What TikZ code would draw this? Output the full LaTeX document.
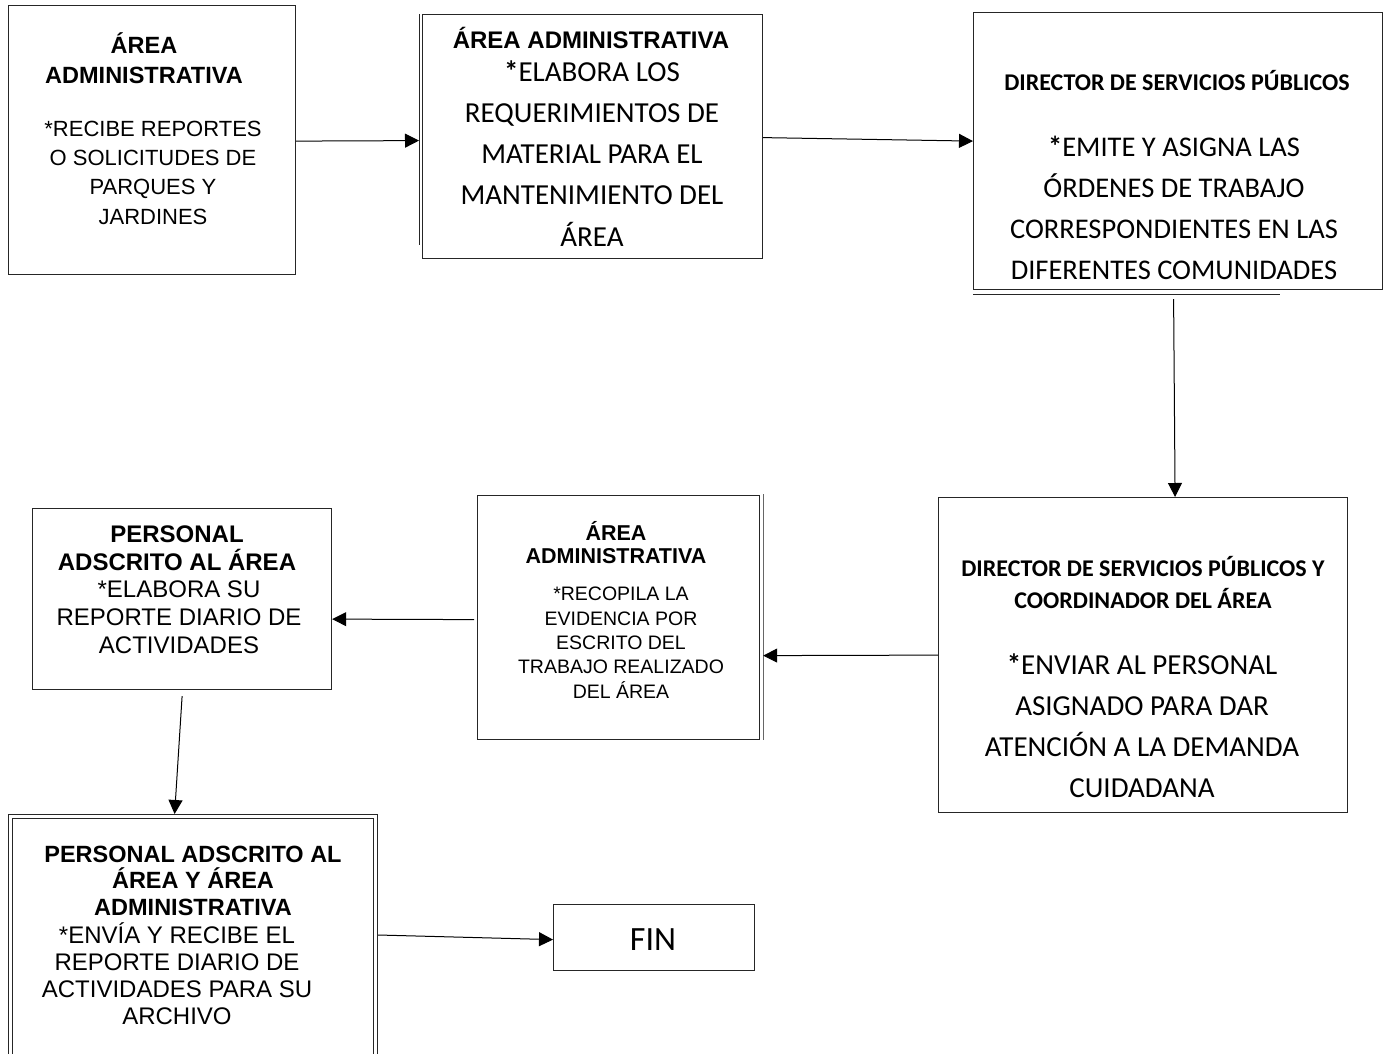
\documentclass[tikz,border=0pt]{standalone}
\usepackage{fontspec}
\setmainfont{Liberation Sans}
\newfontfamily\calib{Carlito}
\usetikzlibrary{arrows.meta}

\tikzset{
  stepbox/.style={draw=black!85, line width=1.2pt, inner sep=0pt, anchor=north west},
  % anchor=base of a multi-line node sits on the baseline of its last line
  txt/.style={anchor=base, align=center, inner sep=0pt},
  arial/.style 2 args={txt, font={\fontsize{#1}{#2}\selectfont}},
  arialb/.style 2 args={txt, font={\fontsize{#1}{#2}\selectfont\bfseries}},
  cal/.style 2 args={txt, font={\calib\fontsize{#1}{#2}\selectfont}},
  calb/.style 2 args={txt, font={\calib\fontsize{#1}{#2}\selectfont\bfseries}},
  flow/.style={line width=1pt, -{Triangle[length=14pt,width=14pt]}},
  edge/.style={draw=black!85, line width=1.2pt}
}

\begin{document}
\begin{tikzpicture}[x=1pt, y=-1pt]
  \clip (0,0) rectangle (1385,1053);
  \fill[white] (0,0) rectangle (1385,1053);

  % boxes
  \node[stepbox, minimum width=287pt, minimum height=269pt] (b1) at (8,5) {};
  \node[stepbox, minimum width=340pt, minimum height=244pt] (b2) at (422,14) {};
  \draw[edge, line width=1.6pt] ([xshift=-2.5pt]b2.north west) -- ++(0,231);
  \node[stepbox, minimum width=409pt, minimum height=277pt] (b3) at (973,12) {};
  \draw[edge, line width=1pt] ([yshift=-4pt]b3.south west) -- ++(307,0);
  \node[stepbox, minimum width=409pt, minimum height=315pt] (b4) at (938,497) {};
  \node[stepbox, minimum width=282pt, minimum height=244pt] (b5) at (477,495) {};
  \draw[edge, line width=1pt, draw=black!60] ([xshift=3.5pt,yshift=1pt]b5.north east) -- ([xshift=3.5pt]b5.south east);
  \node[stepbox, minimum width=299pt, minimum height=181pt] (b6) at (32,508) {};
  \node[stepbox, minimum width=369pt, minimum height=260pt] (b7) at (8,814) {};
  \draw[edge, line width=1pt] (12,1080) -- (12,818) -- (373.5,818) -- (373.5,1080);
  \node[stepbox, minimum width=201pt, minimum height=66pt] (fin) at (553,904) {};

  % texts (positions give the baseline of the last line)
  \node[arialb={23.5}{30}] (t1) at (144,83) {ÁREA\\ADMINISTRATIVA};
  \node[arial={22}{29.3}] (x1) at (153,224) {*RECIBE REPORTES\\O SOLICITUDES DE\\PARQUES Y\\JARDINES};

  \node[arialb={24}{30}] (t2) at (591,48) {ÁREA ADMINISTRATIVA};
  \node[cal={29}{41.2}] (x2) at (592,246) {\textbf{*}ELABORA LOS\\REQUERIMIENTOS DE\\MATERIAL PARA EL\\MANTENIMIENTO DEL\\ÁREA};

  \node[calb={24}{32}] (t3) at (1177,90) {DIRECTOR DE SERVICIOS PÚBLICOS};
  \node[cal={28.5}{40.9}] (x3) at (1174,279) {\textbf{*}EMITE Y ASIGNA LAS\\ÓRDENES DE TRABAJO\\CORRESPONDIENTES EN LAS\\DIFERENTES COMUNIDADES};

  \node[calb={24}{32}] (t4) at (1143,608) {DIRECTOR DE SERVICIOS PÚBLICOS Y\\COORDINADOR DEL ÁREA};
  \node[cal={29}{41}] (x4) at (1142,797) {\textbf{*}ENVIAR AL PERSONAL\\ASIGNADO PARA DAR\\ATENCIÓN A LA DEMANDA\\CUIDADANA};

  \node[arialb={21.5}{23}] (t5) at (616,563) {ÁREA\\ADMINISTRATIVA};
  \node[arial={19.5}{24.3}] (x5) at (621,698) {*RECOPILA LA\\EVIDENCIA POR\\ESCRITO DEL\\TRABAJO REALIZADO\\DEL ÁREA};

  \node[arialb={24}{28}] (t6) at (177,570) {PERSONAL\\ADSCRITO AL ÁREA};
  \node[arial={24}{27.7}] (x6) at (179,653) {*ELABORA SU\\REPORTE DIARIO DE\\ACTIVIDADES};

  \node[arialb={23.5}{26.5}] (t7) at (193,915) {PERSONAL ADSCRITO AL\\ÁREA Y ÁREA\\ADMINISTRATIVA};
  \node[arial={24}{27}] (x7) at (177,1024) {*ENVÍA Y RECIBE EL\\REPORTE DIARIO DE\\ACTIVIDADES PARA SU\\ARCHIVO};

  \node[cal={34}{40}] (tf) at (653,950) {FIN};

  % connectors
  \draw[flow] ([yshift=-1pt]b1.east) -- ([xshift=-3pt,yshift=-4pt]b2.west);
  \draw[flow] ([yshift=-1pt]b2.east) -- ([yshift=10pt]b3.west);
  \draw[flow] ([xshift=-4.5pt,yshift=-9pt]b3.south) -- ([xshift=32pt]b4.north);
  \draw[flow] (b4.west) -- ([xshift=3pt,yshift=-38pt]b5.east);
  \draw[flow] ([xshift=-3pt,yshift=-2pt]b5.west) -- ([yshift=-20pt]b6.east);
  \draw[flow] ([yshift=-6pt]b6.south) -- ([xshift=-18.5pt]b7.north);
  \draw[flow] ([yshift=-121pt]b7.north east) -- ([yshift=-2pt]fin.west);
\end{tikzpicture}
\end{document}
